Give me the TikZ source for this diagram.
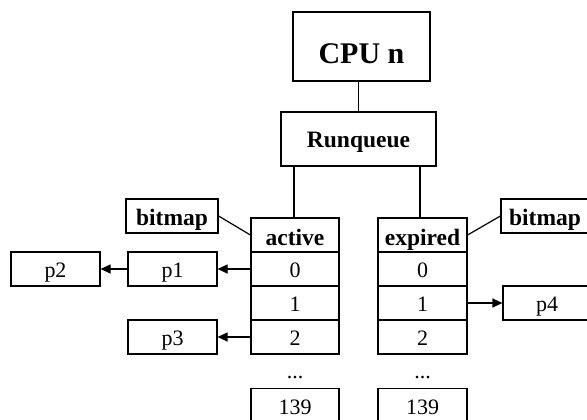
\documentclass[tikz,border=0pt]{standalone}
\usepackage{fontspec}
\setmainfont{Liberation Serif}
\usetikzlibrary{arrows.meta}
\begin{document}
\begin{tikzpicture}[x=1pt,y=-1pt,
  box/.style={draw,line width=1.2pt,inner sep=0pt,minimum height=34pt,minimum width=88pt,
    text depth=0pt,text height=16.6pt,font=\fontsize{22}{26}\selectfont},
  bbox/.style={box,font=\fontsize{23.5}{28}\selectfont\bfseries,text height=18pt},
  dots/.style={inner sep=0pt,anchor=base,font=\fontsize{22}{26}\selectfont},
  conn/.style={line width=1.2pt},
  arr/.style={line width=1.2pt,-{Triangle[length=10pt,width=9pt]}}]
\useasboundingbox (0,0) rectangle (587,420);
\clip (0,0) rectangle (587,420);
% top
\node[bbox,minimum width=137pt,minimum height=69pt,font=\fontsize{30}{36}\selectfont\bfseries,text height=33.6pt] (cpu) at (361.5,46.5) {CPU n};
\node[bbox,minimum width=155pt,minimum height=54pt,text height=17.4pt] (rq) at (358.5,139) {Runqueue};
% active column
\node[bbox,text height=20pt] (ah) at (295,235) {active};
\node[box] (a0) at (295,269) {0};
\node[box] (a1) at (295,303) {1};
\node[box] (a2) at (295,337) {2};
\node[dots] (ad) at (295,378.3) {...};
\node[box,text height=17.6pt] (a139) at (295,405.5) {139};
% expired column
\node[bbox,minimum width=89pt,text height=20pt] (eh) at (422.5,235) {expired};
\node[box,minimum width=89pt] (e0) at (422.5,269) {0};
\node[box,minimum width=89pt] (e1) at (422.5,303) {1};
\node[box,minimum width=89pt] (e2) at (422.5,337) {2};
\node[dots] (ed) at (422.5,378.3) {...};
\node[box,minimum width=89pt,text height=17.6pt] (e139) at (422.5,405.5) {139};
% bitmaps
\node[bbox,minimum width=92pt] (bl) at (172,216) {bitmap};
\node[bbox,minimum width=88pt] (br) at (545,216) {bitmap};
% process boxes
\node[box,minimum width=89pt] (p1) at (172.5,269) {p1};
\node[box,minimum width=89pt] (p2) at (55.5,269) {p2};
\node[box,minimum width=89pt] (p3) at (172.5,337) {p3};
\node[box,minimum width=88pt] (p4) at (547,303) {p4};
% connectors
\draw[conn] (rq.north) -- (rq.north |- cpu.south);
\draw[conn] ([xshift=-1pt]ah.north) -- ([xshift=-1pt]ah.north |- rq.south);
\draw[conn] ([xshift=-2.5pt]eh.north) -- ([xshift=-2.5pt]eh.north |- rq.south);
\draw[conn] (bl.east) -- (ah.west);
\draw[conn] (eh.east) -- (br.west);
\draw[arr] (a0.west) -- (p1.east);
\draw[arr] (p1.west) -- (p2.east);
\draw[arr] (a2.west) -- (p3.east);
\draw[arr] (e1.east) -- (p4.west);
\end{tikzpicture}
\end{document}
